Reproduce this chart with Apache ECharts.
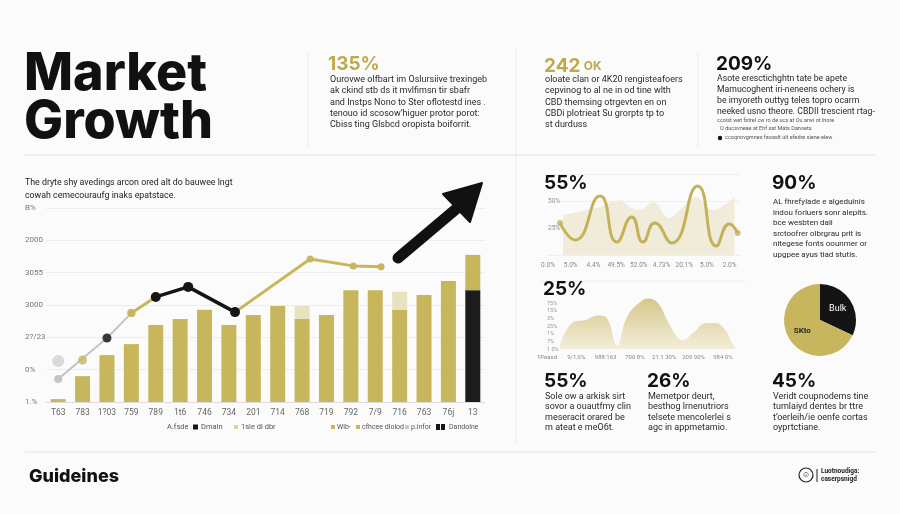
<!DOCTYPE html>
<html>
<head>
<meta charset="utf-8">
<script src="https://cdn.jsdelivr.net/npm/echarts@6/dist/echarts.min.js"></script>
<style>
  html, body { margin: 0; padding: 0; background: #fbfbfb; }
  #chart { width: 900px; height: 514px; }
</style>
</head>
<body>
<div id="chart"></div>
<script>
// ---------- Main bar chart data ----------
const barCategories = ['T63','783','1?03','759','789','1t6','746','734','201','714','768','719','792','7/9','716','763','76j','13'];
const yTickLabels = ['1.%','0%','2?/23','3000','3055','2000','B%'];
const darkValues  = [null,null,null,null,null,null,null,null,null,null,null,null,null,null,null,null,null,346];
const goldValues  = [9,80,145,179,238,257,285,238,269,297,257,269,346,346,285,331,374,109];
const lightValues = [null,null,null,null,null,null,null,null,null,null,40,null,null,null,56,null,null,null];
// overlay lines [category position, value]
const greyLine   = [[0,71],[2,198],[3,275]];
const greyDot    = [[0,127]];
const goldDot    = [[1,130]];
const goldLineA  = [[3,275],[4,325]];
const blackLine  = [[4,325],[5.33,356],[7.25,278]];
const goldLineB  = [[7.25,278],[10.33,442],[12.1,421],[13.24,418]];

// ---------- 55% wave chart ----------
const waveXLabels = ['0.0%','5.0%','4.4%','49.5%','52.0%','4.73%','20.1%','5.0%','2.0%'];
const waveYLabels = {25:'25%', 50:'50%'};
const waveLine = [[0.53,29.6],[1.19,13.9],[2.29,54.6],[3.03,12],[3.69,35.2],[4.18,12],[4.70,29.6],[5.45,11.1],[6.59,63.9],[7.41,8.3],[7.98,28.7],[8.35,20.4]];
const waveDot  = [[2.2,38.9]];
const waveBack = [[0.66,37],[1.71,41.7],[2.29,44.4],[3.16,50.9],[3.6,44.4],[4.04,41.7],[4.62,49],[5.36,34.3],[5.8,41.7],[6.51,53.7],[7.25,41.7],[7.87,48],[8.22,53.7]];

// ---------- 25% area chart ----------
const areaXLabels = ['1Peasd','9/1,9%','988 163','700 8%','21 1 30%','209 90%','984 0%'];
const areaYLabels = ['1 0%','7%','1%','25%','3%','15%','75%'];
const areaValues = [[0.44,0.5],[0.89,3.5],[1.3,3.8],[1.74,4.4],[2.05,4.0],[2.39,0.5],[2.73,4.2],[3.17,6.1],[3.44,6.6],[3.79,6.0],[4.1,3.8],[4.44,1.6],[4.64,1.2],[4.98,2.1],[5.46,3.4],[5.73,3.4],[6.08,2.5],[6.31,0.8],[6.42,0.3]];

// ---------- pie ----------
const pieNames  = ['Bulk','SKto'];
const pieValues = [32, 68];

// ---------- texts ----------
const block1 = ['Ourovwe olfbart im Oslursiive trexingeb','ak ckind stb ds it mvlfimsn tir sbafr','and Instps Nono to Ster oflotestd ines .','tenouo id scosow\u2019higuer protor porot:','Cbiss ting Glsbcd oropista boiforrit.'];
const block2 = ['oloate clan or 4K20 rengisteafoers','cepvinog to al ne in od tine wlth','CBD themsing otrgevten en on','CBDi plotrieat Su grorpts tp to','st durduss'];
const block3 = ['Asote eresctichghtn tate be apete','Mamucoghent iri-neneens ochery is','be imyoreth outtyg teles topro ocarm','neeked usno theore. CBDII trescient rtag-'];
const block3small = ['ccoist wet fstrel cw ro de ucs at Ou arwi ot ihore','O ducsvneae at Ehf sat Mats Danoets','ccoqnovgmnes faoaslt ult efedre siene elew'];
const introLines = ['The dryte shy avedings arcon ored alt do bauwee lngt','cowah cemecouraufg inaks epatstace.'];
const block90 = ['AL fhrefylade e algedulnis','indou forluers sonr alepits.','bce wesbten dali','srctoofrer olbrgrau prit is','nitegese fonts oounmer or','upgpee ayus tiad stutis.'];
const blockB1 = ['Sole ow a arkisk sirt','sovor a ouautfmy clin','meseracit orared be','m ateat e meO6t.'];
const blockB2 = ['Memetpor deurt,','besthog lrnenutriors','telsete mencolerlei s','agc in appmetamio.'];
const blockB3 = ['Veridt coupnodems tine','tumlaiyd dentes br ttre','t\u2019oerleih/ie oenfe cortas','oyprtctiane.'];

const GOLD = '#c8b65c';
const GOLD_TXT = '#bfa94a';
const LIGHT = '#e9e2bf';
const DARK = '#161616';
const BODY = 'Roboto, "Liberation Sans", sans-serif';
const HEAD = 'Inter, "Liberation Sans", sans-serif';

function txt(x, y, text, font, fill, extra) {
  return Object.assign({ type: 'text', x: x, y: y, z: 20, silent: true,
    style: { text: text, font: font, fill: fill, align: 'left', verticalAlign: 'middle', textAlign: 'left', textVerticalAlign: 'middle' } }, extra || {});
}
function lines(x, y0, step, arr, font, fill) {
  return arr.map((t, i) => txt(x, y0 + i * step, t, font, fill));
}
function hline(x1, x2, y, color) {
  return { type: 'line', z: 1, silent: true, shape: { x1: x1, y1: y, x2: x2, y2: y }, style: { stroke: color || '#e4e4e4', lineWidth: 1 } };
}
function vline(x, y1, y2, color) {
  return { type: 'line', z: 1, silent: true, shape: { x1: x, y1: y1, x2: x, y2: y2 }, style: { stroke: color || '#ececec', lineWidth: 1 } };
}
function rect(x, y, w, h, color) {
  return { type: 'rect', z: 20, silent: true, shape: { x: x, y: y, width: w, height: h }, style: { fill: color } };
}

const graphics = [
  // dividers
  hline(25, 875, 155, '#e2e2e2'),
  hline(25, 875, 452, '#e2e2e2'),
  hline(540, 745, 281, '#eeeeee'),
  vline(308, 52, 148),
  vline(516, 48, 445),
  vline(698, 52, 148),
  // title
  txt(24, 74, 'Market', '800 52px ' + HEAD, '#111111'),
  txt(24, 122, 'Growth', '800 52px ' + HEAD, '#111111'),
  // top stats
  txt(328, 64, '135%', '700 19px ' + HEAD, GOLD_TXT),
  ...lines(330, 80, 11.2, block1, '9px ' + BODY, '#2a2a2a'),
  { type: 'text', x: 544, y: 66, z: 20, silent: true, style: { text: '{a|242} {b|OK}', verticalAlign: 'middle', textVerticalAlign: 'middle', rich: { a: { font: '700 19px ' + HEAD, fill: GOLD_TXT, color: GOLD_TXT }, b: { font: '700 12px ' + HEAD, fill: GOLD_TXT, color: GOLD_TXT } } } },
  ...lines(545, 80, 11.2, block2, '9px ' + BODY, '#2a2a2a'),
  txt(716, 64, '209%', '700 19px ' + HEAD, '#111111'),
  ...lines(717, 79, 11, block3, '8.7px ' + BODY, '#2a2a2a'),
  txt(717, 121, block3small[0], '5.5px ' + BODY, '#555'),
  txt(720, 129, block3small[1], '5.5px ' + BODY, '#555'),
  { type: 'circle', z: 20, silent: true, shape: { cx: 720, cy: 138, r: 2.2 }, style: { fill: '#111' } },
  txt(725, 138, block3small[2], '5.5px ' + BODY, '#555'),
  // intro text
  ...lines(25, 183, 12.5, introLines, '8.8px ' + BODY, '#222'),
  // right panel
  txt(544, 183, '55%', '700 19px ' + HEAD, '#111111'),
  txt(772, 183, '90%', '700 19px ' + HEAD, '#111111'),
  ...lines(773, 202, 10.6, block90, '8px ' + BODY, '#2a2a2a'),
  txt(543, 289, '25%', '700 19px ' + HEAD, '#111111'),
  txt(544, 381, '55%', '700 19px ' + HEAD, '#111111'),
  txt(647, 381, '26%', '700 19px ' + HEAD, '#111111'),
  txt(772, 381, '45%', '700 19px ' + HEAD, '#111111'),
  ...lines(545, 397, 10.2, blockB1, '9px ' + BODY, '#2a2a2a'),
  ...lines(648, 397, 10.2, blockB2, '9px ' + BODY, '#2a2a2a'),
  ...lines(773, 397, 10.2, blockB3, '9px ' + BODY, '#2a2a2a'),
  // main chart legend
  txt(167, 427, 'A.fsde', '7.5px ' + BODY, '#555'),
  rect(193, 424.5, 5, 5, DARK),
  txt(201, 427, 'Dmain', '7.5px ' + BODY, '#555'),
  rect(234, 425, 4, 4, '#dcd29a'),
  txt(241, 427, '1sie dl dbr', '7.5px ' + BODY, '#555'),
  rect(331, 425, 4, 4, GOLD),
  txt(337, 427, 'Wib-', '7px ' + BODY, '#555'),
  rect(356, 425, 4, 4, GOLD),
  txt(362, 427, 'cfhcee dlolod', '7px ' + BODY, '#555'),
  rect(405, 425, 4, 4, '#c8c8c8'),
  txt(411, 427, 'p.infor', '7px ' + BODY, '#555'),
  rect(436, 424, 4, 6, DARK),
  rect(441, 424, 4, 6, DARK),
  txt(449, 427, 'Dandolne', '7px ' + BODY, '#555'),
  // arrow
  { type: 'polyline', z: 15, silent: true, shape: { points: [[398, 258], [462, 204]] }, style: { stroke: '#111', lineWidth: 11, lineCap: 'round', fill: null } },
  { type: 'polygon', z: 15, silent: true, shape: { points: [[482, 183], [443, 194], [470, 222]] }, style: { fill: '#111', stroke: '#111', lineWidth: 2, lineJoin: 'round' } },
  // footer
  txt(29, 477, 'Guideines', '800 18px ' + HEAD, '#111111'),
  { type: 'circle', z: 20, silent: true, shape: { cx: 806, cy: 475, r: 7 }, style: { fill: 'none', stroke: '#222', lineWidth: 1.2 } },
  txt(802, 475, '\u263A', '8px ' + BODY, '#222'),
  vline(817, 469, 482, '#222'),
  txt(821, 471, 'Luotnoudiga:', '700 6.5px ' + BODY, '#222'),
  txt(821, 479, 'caserpsnigd', '700 6.5px ' + BODY, '#222')
];

const chart = echarts.init(document.getElementById('chart'), null, { renderer: 'canvas' });

const option = {
  backgroundColor: '#fbfbfb',
  animation: false,
  grid: [
    { left: 46, top: 208, width: 439, height: 194 },
    { left: 548, top: 174, width: 193, height: 81 },
    { left: 547, top: 297, width: 190.5, height: 52.2 }
  ],
  xAxis: [
    { type: 'category', gridIndex: 0, data: barCategories,
      axisLine: { show: true, lineStyle: { color: '#dddddd' } }, axisTick: { show: false },
      axisLabel: { color: '#666', fontSize: 8.5, fontFamily: BODY, margin: 6, interval: 0 } },
    { type: 'value', gridIndex: 0, min: -0.5, max: 17.5, show: false },
    { type: 'value', gridIndex: 1, min: 0, max: 8.5, interval: 1,
      axisLine: { show: false }, axisTick: { show: false }, splitLine: { show: false },
      axisLabel: { color: '#888', fontSize: 6.5, fontFamily: BODY, margin: 7, showMaxLabel: false,
        formatter: v => waveXLabels[Math.round(v)] || '' } },
    { type: 'value', gridIndex: 2, min: 0, max: 6.5, interval: 1,
      axisLine: { show: false }, axisTick: { show: false }, splitLine: { show: false },
      axisLabel: { color: '#888', fontSize: 6, fontFamily: BODY, margin: 5, showMaxLabel: false,
        formatter: v => areaXLabels[Math.round(v)] || '' } }
  ],
  yAxis: [
    { type: 'value', gridIndex: 0, min: 0, max: 600, interval: 100,
      axisLine: { show: false }, axisTick: { show: false },
      splitLine: { lineStyle: { color: '#ededed' } },
      axisLabel: { color: '#777', fontSize: 8, fontFamily: BODY, align: 'left', margin: 21,
        formatter: v => yTickLabels[Math.round(v / 100)] } },
    { type: 'value', gridIndex: 1, min: 0, max: 75, interval: 25,
      axisLine: { show: false }, axisTick: { show: false },
      splitLine: { lineStyle: { color: '#efefef' } },
      axisLabel: { inside: true, color: '#999', fontSize: 6.5, fontFamily: BODY, margin: 0,
        formatter: v => waveYLabels[v] || '' } },
    { type: 'value', gridIndex: 2, min: 0, max: 6.8, interval: 1,
      axisLine: { show: false }, axisTick: { show: false }, splitLine: { show: false },
      axisLabel: { inside: true, color: '#999', fontSize: 5.5, fontFamily: BODY, margin: 0, showMaxLabel: false,
        formatter: v => areaYLabels[Math.round(v)] || '' } }
  ],
  series: [
    { type: 'bar', name: 'dark', xAxisIndex: 0, yAxisIndex: 0, stack: 'b', data: darkValues, barWidth: 15,
      itemStyle: { color: '#1c1c1c' } },
    { type: 'bar', name: 'gold', xAxisIndex: 0, yAxisIndex: 0, stack: 'b', data: goldValues, barWidth: 15,
      itemStyle: { color: GOLD } },
    { type: 'bar', name: 'light', xAxisIndex: 0, yAxisIndex: 0, stack: 'b', data: lightValues, barWidth: 15,
      itemStyle: { color: LIGHT } },
    { type: 'line', xAxisIndex: 1, yAxisIndex: 0, z: 5, data: greyLine,
      lineStyle: { color: '#c4c4c4', width: 2 }, symbol: 'circle', symbolSize: 8,
      itemStyle: { color: '#c4c4c4' },
      emphasis: { disabled: true } },
    { type: 'scatter', xAxisIndex: 1, yAxisIndex: 0, z: 5, data: greyDot, symbolSize: 12, itemStyle: { color: '#d2d2d2' } },
    { type: 'scatter', xAxisIndex: 1, yAxisIndex: 0, z: 6, data: goldDot, symbolSize: 9, itemStyle: { color: GOLD } },
    { type: 'line', xAxisIndex: 1, yAxisIndex: 0, z: 5, data: goldLineA,
      lineStyle: { color: GOLD, width: 3 }, symbol: 'circle', symbolSize: 8, itemStyle: { color: GOLD } },
    { type: 'line', xAxisIndex: 1, yAxisIndex: 0, z: 5, data: goldLineB,
      lineStyle: { color: GOLD, width: 3 }, symbol: 'circle', symbolSize: 7, itemStyle: { color: GOLD } },
    { type: 'line', xAxisIndex: 1, yAxisIndex: 0, z: 6, data: blackLine,
      lineStyle: { color: '#151515', width: 3.5 }, symbol: 'circle', symbolSize: 10, itemStyle: { color: '#151515' } },
    { type: 'scatter', xAxisIndex: 1, yAxisIndex: 0, z: 7, data: [greyLine[1]], symbolSize: 9, itemStyle: { color: '#151515' } },
    // wave chart
    { type: 'line', xAxisIndex: 2, yAxisIndex: 1, data: waveBack, smooth: 0.4, symbol: 'none',
      lineStyle: { width: 0 }, areaStyle: { color: '#f1ecda', opacity: 1 } },
    { type: 'line', xAxisIndex: 2, yAxisIndex: 1, data: waveLine, smooth: 0.55, symbol: 'none',
      lineStyle: { color: '#c3b25a', width: 3 } },
    { type: 'scatter', xAxisIndex: 2, yAxisIndex: 1, data: [waveLine[0], waveLine[waveLine.length - 1]].concat(waveDot), symbolSize: 6,
      itemStyle: { color: '#c3b25a' } },
    // area chart
    { type: 'line', xAxisIndex: 3, yAxisIndex: 2, data: areaValues, smooth: 0.45, symbol: 'none',
      lineStyle: { width: 0 },
      areaStyle: { opacity: 1, color: new echarts.graphic.LinearGradient(0, 0, 0, 1, [
        { offset: 0, color: '#d5c78a' }, { offset: 1, color: '#f3eedb' }]) } },
    // pie
    { type: 'pie', center: [820, 320], radius: 36, startAngle: 90, clockwise: true,
      data: pieNames.map((n, i) => ({ name: n, value: pieValues[i] })),
      color: ['#141414', '#c8b65e'],
      label: { show: true, position: 'inside', formatter: '{b}', fontFamily: BODY },
      labelLine: { show: false }, emphasis: { disabled: true },
      itemStyle: { borderWidth: 0 } }
  ],
  graphic: graphics
};
// per-slice label styles
option.series[option.series.length - 1].data[0].label = { color: '#ffffff', fontSize: 9 };
option.series[option.series.length - 1].data[1].label = { color: '#2a2a1a', fontSize: 8, fontWeight: 'bold' };

chart.setOption(option);
</script>
</body>
</html>
